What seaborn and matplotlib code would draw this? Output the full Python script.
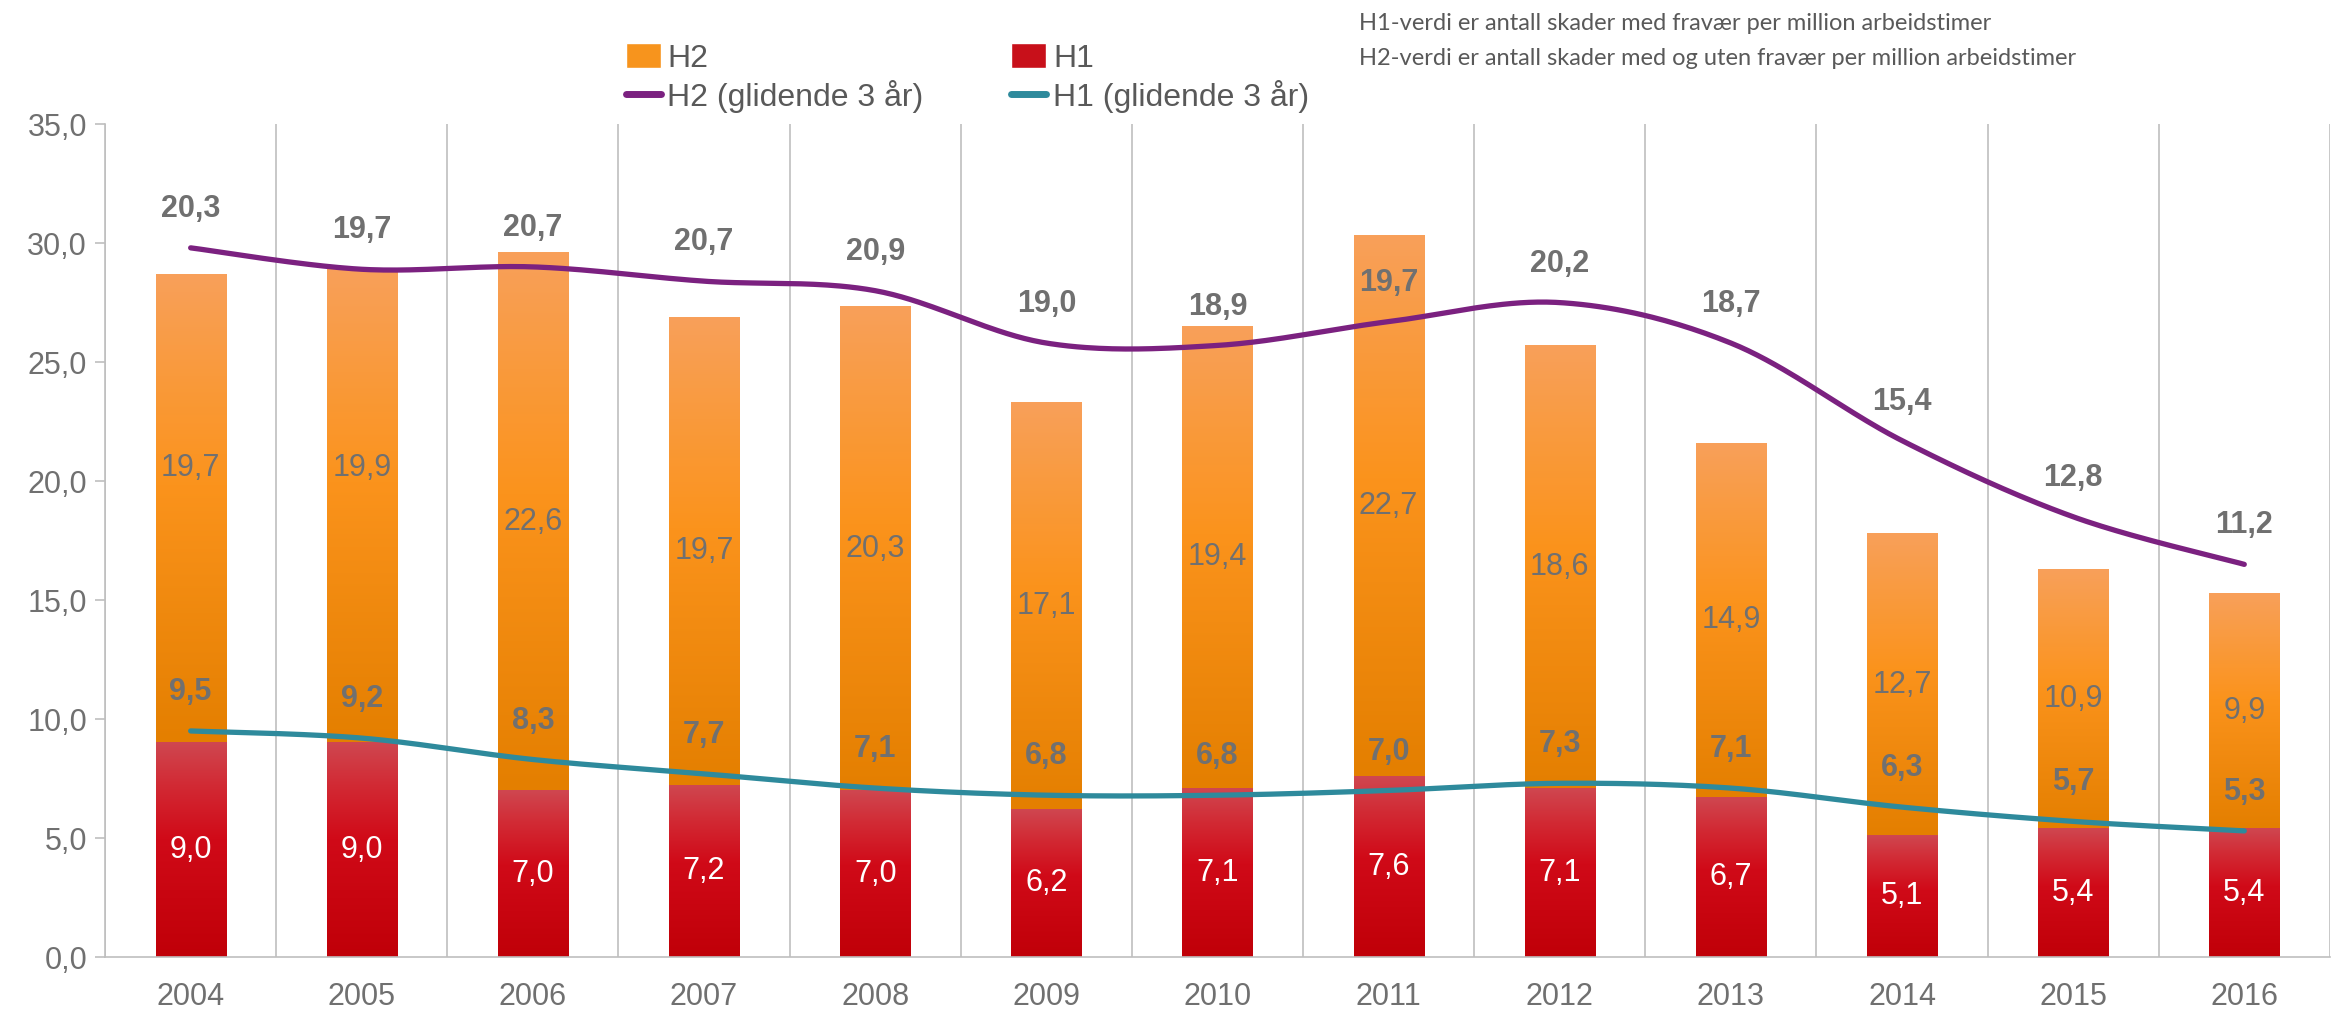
import numpy as np
import pandas as pd
import seaborn as sns
import matplotlib.pyplot as plt
from matplotlib.colors import LinearSegmentedColormap
from matplotlib.patches import Patch
from matplotlib.lines import Line2D

years = ["2004", "2005", "2006", "2007", "2008", "2009", "2010",
         "2011", "2012", "2013", "2014", "2015", "2016"]
h1 = [9.0, 9.0, 7.0, 7.2, 7.0, 6.2, 7.1, 7.6, 7.1, 6.7, 5.1, 5.4, 5.4]
h2 = [19.7, 19.9, 22.6, 19.7, 20.3, 17.1, 19.4, 22.7, 18.6, 14.9, 12.7, 10.9, 9.9]
h1_rolling = [9.5, 9.2, 8.3, 7.7, 7.1, 6.8, 6.8, 7.0, 7.3, 7.1, 6.3, 5.7, 5.3]
h2_rolling = [20.3, 19.7, 20.7, 20.7, 20.9, 19.0, 18.9, 19.7, 20.2, 18.7, 15.4, 12.8, 11.2]
note_lines = ["H1-verdi er antall skader med fravær per million arbeidstimer",
              "H2-verdi er antall skader med og uten fravær per million arbeidstimer"]

GREY = "#707070"
PURPLE = "#7B2180"
TEAL = "#2E8A9C"
FS = 22

sns.set_style("white")
plt.rcParams["font.family"] = ["Liberation Sans", "DejaVu Sans"]

df = pd.DataFrame({"year": years, "h1": h1, "h2": h2,
                   "h1r": h1_rolling, "h2r": h2_rolling})
df["total"] = df["h1"] + df["h2"]
df["h2r_stacked"] = df["h1r"] + df["h2r"]

fig = plt.figure(figsize=(23.51, 10.09), dpi=100)
ax = fig.add_axes([0.0447, 0.0515, 0.9463, 0.8255])

# stacked bars: total first, then H1 on top of it
sns.barplot(data=df, x="year", y="total", color="#F7941D", width=0.41,
            ax=ax, zorder=2)
sns.barplot(data=df, x="year", y="h1", color="#C8101A", width=0.41,
            ax=ax, zorder=2)

# gradient fill like the original
cmap_h2 = LinearSegmentedColormap.from_list(
    "h2", [(0, "#E47F00"), (0.55, "#FB931C"), (0.85, "#F99C45"), (1, "#F8A05A")])
cmap_h1 = LinearSegmentedColormap.from_list(
    "h1", [(0, "#C00008"), (0.55, "#D00A18"), (0.8, "#D22A34"), (1, "#CF4750")])
grad = np.linspace(0, 1, 256).reshape(-1, 1)
patches = list(ax.patches)
n = len(years)
for i, p in enumerate(patches[:n]):
    x0 = p.get_x()
    x1 = x0 + p.get_width()
    ax.imshow(grad, cmap=cmap_h2, origin="lower", aspect="auto",
              extent=(x0, x1, h1[i], df["total"][i]), zorder=2.1)
    p.set_visible(False)
for i, p in enumerate(patches[n:]):
    x0 = p.get_x()
    x1 = x0 + p.get_width()
    ax.imshow(grad, cmap=cmap_h1, origin="lower", aspect="auto",
              extent=(x0, x1, 0, h1[i]), zorder=2.2)
    p.set_visible(False)


def smooth(xs, ys, steps=40):
    # bezier smoothing, the way the spreadsheet draws "smoothed line"
    xs = np.asarray(xs, float)
    ys = np.asarray(ys, float)
    out_x, out_y = [], []
    t = np.linspace(0, 1, steps)
    for i in range(len(xs) - 1):
        a = max(i - 1, 0)
        b = min(i + 2, len(xs) - 1)
        c1x = xs[i] + (xs[i + 1] - xs[a]) / 6
        c1y = ys[i] + (ys[i + 1] - ys[a]) / 6
        c2x = xs[i + 1] - (xs[b] - xs[i]) / 6
        c2y = ys[i + 1] - (ys[b] - ys[i]) / 6
        bx = ((1 - t) ** 3 * xs[i] + 3 * (1 - t) ** 2 * t * c1x
              + 3 * (1 - t) * t ** 2 * c2x + t ** 3 * xs[i + 1])
        by = ((1 - t) ** 3 * ys[i] + 3 * (1 - t) ** 2 * t * c1y
              + 3 * (1 - t) * t ** 2 * c2y + t ** 3 * ys[i + 1])
        out_x.extend(bx)
        out_y.extend(by)
    return np.array(out_x), np.array(out_y)


xpos = np.arange(n)
for col, color in [("h2r_stacked", PURPLE), ("h1r", TEAL)]:
    sx, sy = smooth(xpos, df[col])
    sns.lineplot(x=sx, y=sy, sort=False, color=color, linewidth=3.8,
                 solid_capstyle="round", ax=ax, zorder=4)


def fmt(v):
    return f"{v:.1f}".replace(".", ",")


h2_label_shift = {0: 1.7, 1: 1.6}
for i in range(n):
    ax.text(i, h1[i] / 2, fmt(h1[i]), color="white", fontsize=FS,
            ha="center", va="center", zorder=5)
    ax.text(i, h1[i] + h2[i] / 2 + h2_label_shift.get(i, 0), fmt(h2[i]),
            color=GREY, fontsize=FS, ha="center", va="center", zorder=5)
    ax.annotate(fmt(h1_rolling[i]), (i, h1_rolling[i]), xytext=(0, 28),
                textcoords="offset points", color=GREY, fontsize=FS,
                fontweight="bold", ha="center", va="center", zorder=5)
    ax.annotate(fmt(h2_rolling[i]), (i, df["h2r_stacked"][i]),
                xytext=(0, 28), textcoords="offset points", color=GREY,
                fontsize=FS, fontweight="bold", ha="center", va="center",
                zorder=5)

ax.set_xlim(-0.5, n - 0.5)
ax.set_ylim(0, 35)
ax.set_yticks(np.arange(0, 35.1, 5))
ax.set_yticklabels([fmt(v) for v in np.arange(0, 35.1, 5)])
ax.set_xticks(xpos)
ax.set_xticklabels(years)
ax.set_xticks(np.arange(-0.5, n, 1), minor=True)
ax.tick_params(axis="x", which="major", length=0, pad=18,
               labelsize=FS, labelcolor=GREY)
ax.tick_params(axis="x", which="minor", length=12, color="#BFBFBF", width=1.2)
ax.tick_params(axis="y", length=7, color="#BFBFBF", width=1.2, pad=6,
               labelsize=FS, labelcolor=GREY, left=True)
ax.grid(which="minor", axis="x", color="#BFBFBF", linewidth=1.2, zorder=0)
ax.grid(which="major", axis="both", visible=False)
ax.set_axisbelow(True)
ax.set_xlabel("")
ax.set_ylabel("")
for side in ["top", "right"]:
    ax.spines[side].set_visible(False)
for side in ["left", "bottom"]:
    ax.spines[side].set_color("#BFBFBF")
    ax.spines[side].set_linewidth(1.2)

handles = [Patch(facecolor="#F7941D"),
           Line2D([0], [0], color=PURPLE, linewidth=5, solid_capstyle="round"),
           Patch(facecolor="#C8101A"),
           Line2D([0], [0], color=TEAL, linewidth=5, solid_capstyle="round")]
labels = ["H2", "H2 (glidende 3 år)", "H1", "H1 (glidende 3 år)"]
fig.legend(handles, labels, loc="upper left", bbox_to_anchor=(0.258, 0.976),
           ncol=2, frameon=False, fontsize=23, labelcolor="#595959",
           handlelength=1.1, handleheight=0.8, handletextpad=0.2,
           columnspacing=2.75, labelspacing=0.2, borderaxespad=0.2)

for k, line in enumerate(note_lines):
    fig.text(0.578, 0.977 - k * 0.035, line, fontsize=17, color="#595959",
             family=["Lato", "DejaVu Sans"], ha="left", va="center")

fig.savefig("out.png", dpi=100)
